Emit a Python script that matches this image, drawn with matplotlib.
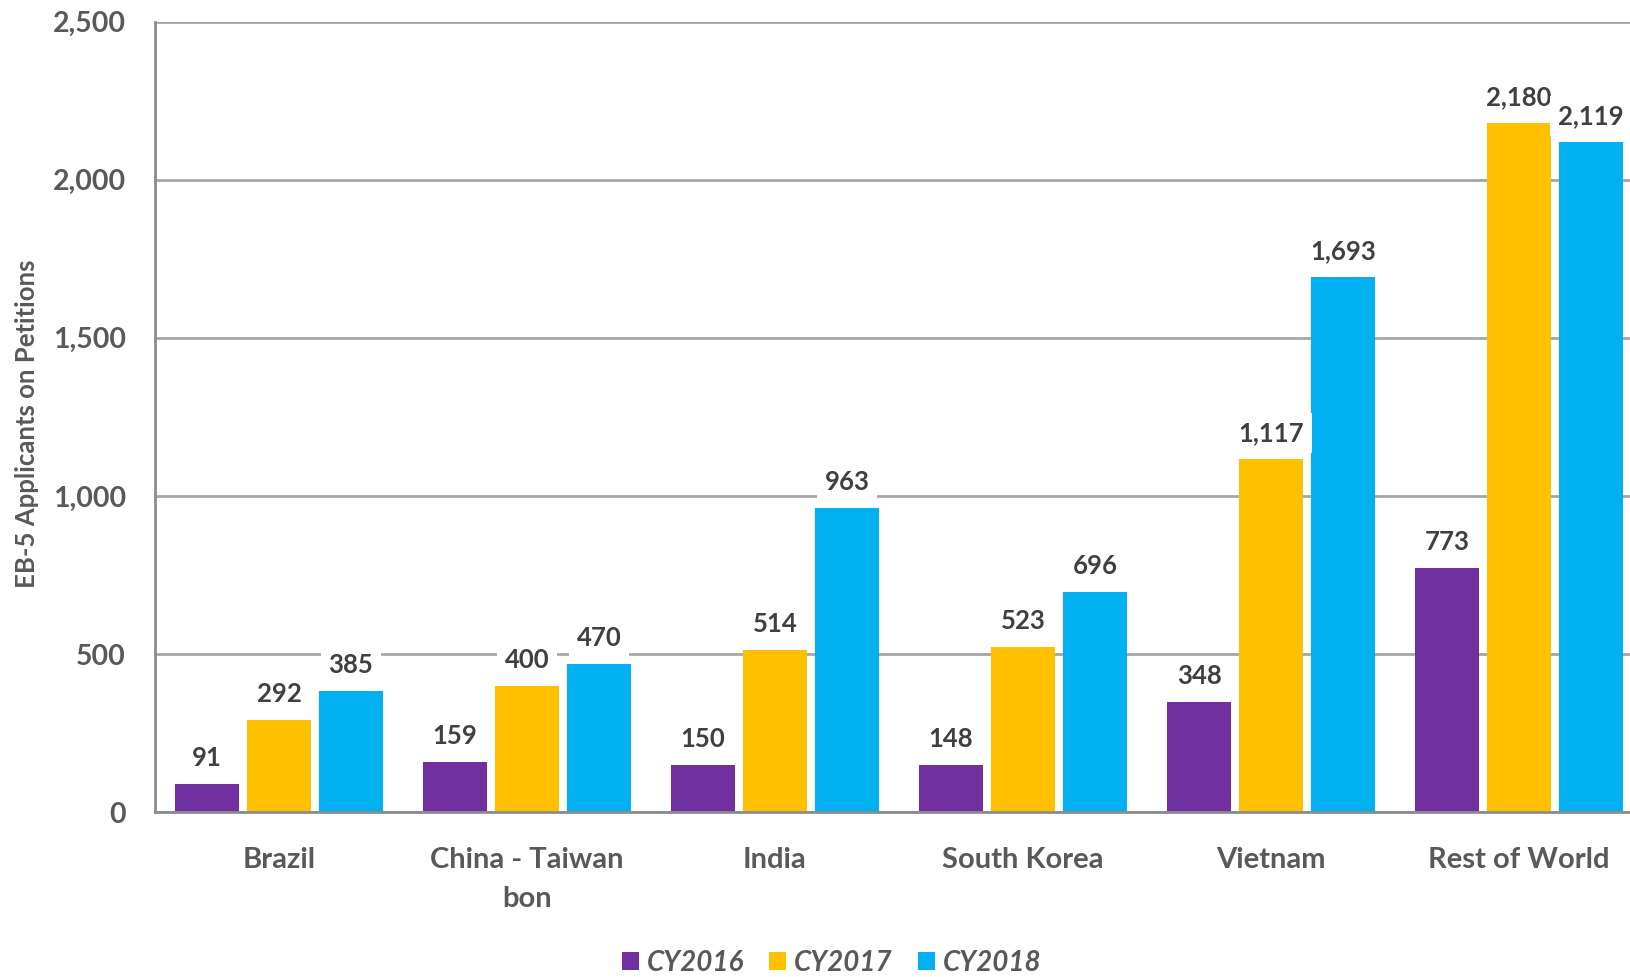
import matplotlib
matplotlib.use("Agg")
import matplotlib.pyplot as plt
import numpy as np
from matplotlib.patches import Patch

# Data
categories = ["Brazil", "China - Taiwan\nbon", "India", "South Korea", "Vietnam", "Rest of World"]
series_names = ["CY2016", "CY2017", "CY2018"]
cy2016 = [91, 159, 150, 148, 348, 773]
cy2017 = [292, 400, 514, 523, 1117, 2180]
cy2018 = [385, 470, 963, 696, 1693, 2119]
yticks = [0, 500, 1000, 1500, 2000, 2500]
ylabel = "EB-5 Applicants on Petitions"

colors = ["#7030A0", "#FFC000", "#00B0F0"]
text_gray = "#595959"
label_dark = "#404040"
grid_gray = "#A6A6A6"

plt.rcParams["font.family"] = ["Lato", "DejaVu Sans"]

W, H = 1631, 977
fig = plt.figure(figsize=(W / 100, H / 100), dpi=100)
left, right = 155 / W, 1643 / W
bottom, top = 1 - 812.3 / H, 1 - 21.5 / H
ax = fig.add_axes([left, bottom, right - left, top - bottom])

x = np.arange(len(categories))
step = 0.29
width = 0.257
all_series = [cy2016, cy2017, cy2018]

for j, vals in enumerate(all_series):
    ax.bar(x + (j - 1) * step, vals, width=width, color=colors[j],
           zorder=2, label=series_names[j])

# value labels on top, white boxes over grid and neighbours
for j, vals in enumerate(all_series):
    for i, v in enumerate(vals):
        ax.annotate(f"{v:,}", xy=(x[i] + (j - 1) * step, v),
                    xytext=(0, 26), textcoords="offset pixels",
                    ha="center", va="center", fontsize=18.5,
                    fontweight="bold", color=label_dark, zorder=4,
                    bbox=dict(boxstyle="square,pad=0.3", fc="white", ec="none"),
                    annotation_clip=False)

ax.set_ylim(0, 2500)
ax.set_xlim(-0.5, len(categories) - 0.5)
ax.set_yticks(yticks)
ax.set_yticklabels([f"{t:,}" for t in yticks], fontsize=20.5, fontweight="bold",
                   color=text_gray)
ax.set_xticks(x)
ax.set_xticklabels(categories, fontsize=21, fontweight="bold", color=text_gray,
                   linespacing=1.6)
ax.tick_params(axis="both", length=0)
ax.tick_params(axis="y", pad=21)
ax.tick_params(axis="x", pad=25)

ax.yaxis.grid(True, color=grid_gray, linewidth=2, zorder=0)
ax.set_axisbelow(True)
for s in ["top", "right"]:
    ax.spines[s].set_visible(False)
for s in ["left", "bottom"]:
    ax.spines[s].set_color("#8C8C8C")
    ax.spines[s].set_linewidth(2)
    ax.spines[s].set_zorder(3)

fig.text(27 / W, 1 - 424 / H, ylabel, rotation=90, ha="center", va="center",
         fontsize=18.5, fontweight="bold", color=text_gray)

handles = [Patch(facecolor=c, edgecolor="none") for c in colors]
leg = fig.legend(handles, series_names, loc="center", bbox_to_anchor=(0.51, 1 - 963 / H),
                 ncol=3, frameon=False, handlelength=0.6, handleheight=0.6,
                 handletextpad=0.3, columnspacing=0.9,
                 prop=dict(family=["Lato", "DejaVu Sans"], size=20, weight="bold", style="italic"))
for t in leg.get_texts():
    t.set_color(text_gray)

fig.savefig("out.png", dpi=100)
